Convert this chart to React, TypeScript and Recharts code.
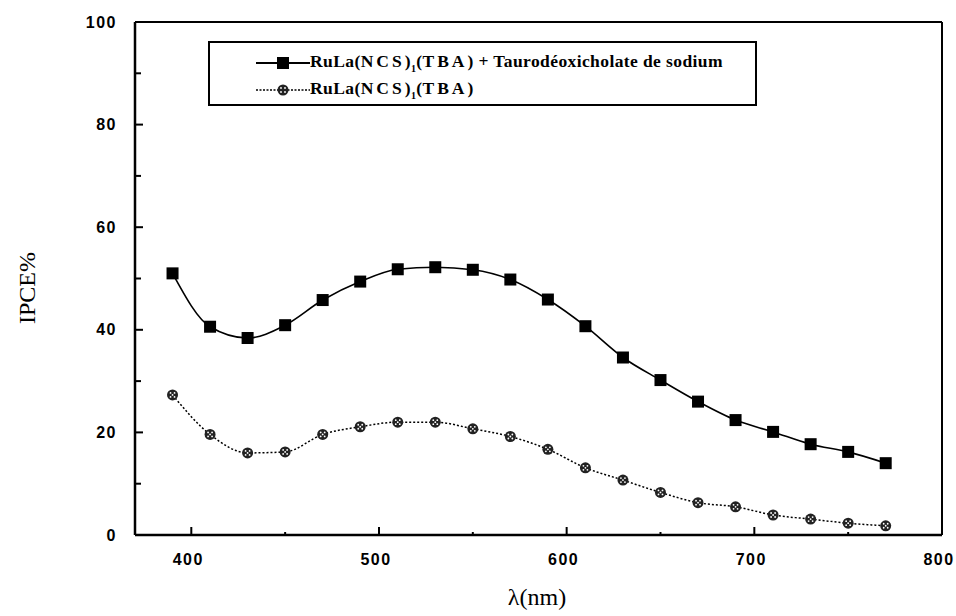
import React from 'react';
import { LineChart, Line, XAxis, YAxis } from 'recharts';

const wavelengths = [390, 410, 430, 450, 470, 490, 510, 530, 550, 570, 590, 610, 630, 650, 670, 690, 710, 730, 750, 770];
const ipceTdc = [51.0, 40.6, 38.4, 40.9, 45.8, 49.4, 51.8, 52.2, 51.7, 49.8, 45.9, 40.7, 34.6, 30.2, 26.0, 22.4, 20.1, 17.7, 16.2, 14.0];
const ipceRef = [27.3, 19.6, 16.0, 16.2, 19.6, 21.1, 22.0, 22.0, 20.7, 19.2, 16.7, 13.1, 10.7, 8.3, 6.3, 5.5, 3.9, 3.1, 2.3, 1.8];
const xTicks = [400, 450, 500, 550, 600, 650, 700, 750, 800];
const yTicks = [0, 10, 20, 30, 40, 50, 60, 70, 80, 90, 100];

const data = wavelengths.map((w, i) => ({ w, tdc: ipceTdc[i], ref: ipceRef[i] }));

const tickFont = { fontFamily: '"Liberation Sans", Arial, sans-serif', fontWeight: 700, fontSize: 16, letterSpacing: 1.5 };
const serif = '"Liberation Serif", "Times New Roman", serif';

function SquareDot(props: any) {
  const { cx, cy, index } = props;
  return <rect key={'s' + index} x={cx - 6} y={cy - 6} width={12} height={12} fill="#000" />;
}

function SpeckleDot(props: any) {
  const { cx, cy, index } = props;
  return (
    <g key={'c' + index}>
      <circle cx={cx} cy={cy} r={5.5} fill="#222" />
      <circle cx={cx - 2} cy={cy - 2} r={0.9} fill="#fff" />
      <circle cx={cx + 2} cy={cy - 2} r={0.9} fill="#fff" />
      <circle cx={cx - 2} cy={cy + 2} r={0.9} fill="#fff" />
      <circle cx={cx + 2} cy={cy + 2} r={0.9} fill="#fff" />
      <circle cx={cx} cy={cy} r={0.9} fill="#fff" />
    </g>
  );
}

// axis line sits at y (tickSize 0, tickMargin 0); ticks point inward
function XTick(props: any) {
  const { x, y, payload } = props;
  const major = payload.value % 100 === 0;
  return (
    <g>
      <line x1={x} x2={x} y1={y} y2={y - (major ? 8 : 3)} stroke="#000" strokeWidth={2} />
      {major && (
        <text x={x - 3} y={y + 24} textAnchor="middle" dominantBaseline="central" style={tickFont} fill="#000">
          {payload.value}
        </text>
      )}
    </g>
  );
}

function YTick(props: any) {
  const { x, y, payload } = props;
  const major = payload.value % 20 === 0;
  return (
    <g>
      <line x1={x} x2={x + (major ? 8 : 6)} y1={y} y2={y} stroke="#000" strokeWidth={2} />
      {major && (
        <text x={x - 18} y={y} textAnchor="end" dominantBaseline="central" style={tickFont} fill="#000">
          {payload.value}
        </text>
      )}
    </g>
  );
}

function LegendBox() {
  const txt = { fontFamily: serif, fontWeight: 700, fontSize: 17.5, letterSpacing: 0.4, color: '#000', whiteSpace: 'nowrap' as const };
  return (
    <div style={{ position: 'absolute', left: 208, top: 41, border: '2px solid #000', width: 549, height: 65, background: '#fff', boxSizing: 'border-box', padding: '6px 0 0 46px' }}>
      <div style={{ display: 'flex', alignItems: 'center', height: 27 }}>
        <svg width={54} height={14}>
          <line x1={0} x2={54} y1={7} y2={7} stroke="#000" strokeWidth={2} />
          <rect x={21} y={1} width={12} height={12} fill="#000" />
        </svg>
        <span style={txt}>RuLa(<span style={{ letterSpacing: 3 }}>NCS</span>)<sub style={{ fontSize: 10 }}>1</sub>(<span style={{ letterSpacing: 3 }}>TBA</span>) + Taurodéoxicholate de sodium</span>
      </div>
      <div style={{ display: 'flex', alignItems: 'center', height: 27 }}>
        <svg width={54} height={14}>
          <line x1={0} x2={54} y1={7} y2={7} stroke="#000" strokeWidth={1.5} strokeDasharray="2 1.5" />
          <circle cx={27} cy={7} r={5.5} fill="#222" />
          <circle cx={25} cy={5} r={0.9} fill="#fff" />
          <circle cx={29} cy={5} r={0.9} fill="#fff" />
          <circle cx={25} cy={9} r={0.9} fill="#fff" />
          <circle cx={29} cy={9} r={0.9} fill="#fff" />
        </svg>
        <span style={txt}>RuLa(<span style={{ letterSpacing: 3 }}>NCS</span>)<sub style={{ fontSize: 10 }}>1</sub>(<span style={{ letterSpacing: 3 }}>TBA</span>)</span>
      </div>
    </div>
  );
}

export default function App() {
  return (
    <div style={{ position: 'absolute', left: 0, top: 0, width: 956, height: 616, background: '#fff' }}>
      <LineChart width={956} height={616} data={data} margin={{ top: 21, left: 134, right: 13, bottom: 80 }}>
        <XAxis
          dataKey="w" type="number" domain={[370, 800]} ticks={xTicks} interval={0}
          height={1} tickSize={0} tickMargin={0} tick={<XTick />}
          axisLine={{ stroke: '#000', strokeWidth: 2.5 }}
        />
        <XAxis xAxisId="top" orientation="top" dataKey="w" type="number" domain={[370, 800]} height={1}
          tick={false} tickLine={false} axisLine={{ stroke: '#000', strokeWidth: 2 }} />
        <YAxis
          type="number" domain={[0, 100]} ticks={yTicks} interval={0}
          width={1} tickSize={0} tickMargin={0} tick={<YTick />}
          axisLine={{ stroke: '#000', strokeWidth: 2.5 }}
        />
        <YAxis yAxisId="right" orientation="right" domain={[0, 100]} width={1}
          tick={false} tickLine={false} axisLine={{ stroke: '#000', strokeWidth: 2 }} />
        <Line type="monotone" dataKey="tdc" stroke="#000" strokeWidth={1.6} dot={SquareDot} activeDot={false} isAnimationActive={false} />
        <Line type="monotone" dataKey="ref" stroke="#000" strokeWidth={1.5} strokeDasharray="2 2" dot={SpeckleDot} activeDot={false} isAnimationActive={false} />
      </LineChart>
      <LegendBox />
      <div style={{ position: 'absolute', left: 537, top: 597, transform: 'translate(-50%, -50%)', fontFamily: serif, fontSize: 24, whiteSpace: 'nowrap' }}>
        λ(nm)
      </div>
      <div style={{ position: 'absolute', left: 27, top: 288, transform: 'translate(-50%, -50%) rotate(-90deg)', fontFamily: serif, fontSize: 24, whiteSpace: 'nowrap' }}>
        IPCE%
      </div>
    </div>
  );
}
